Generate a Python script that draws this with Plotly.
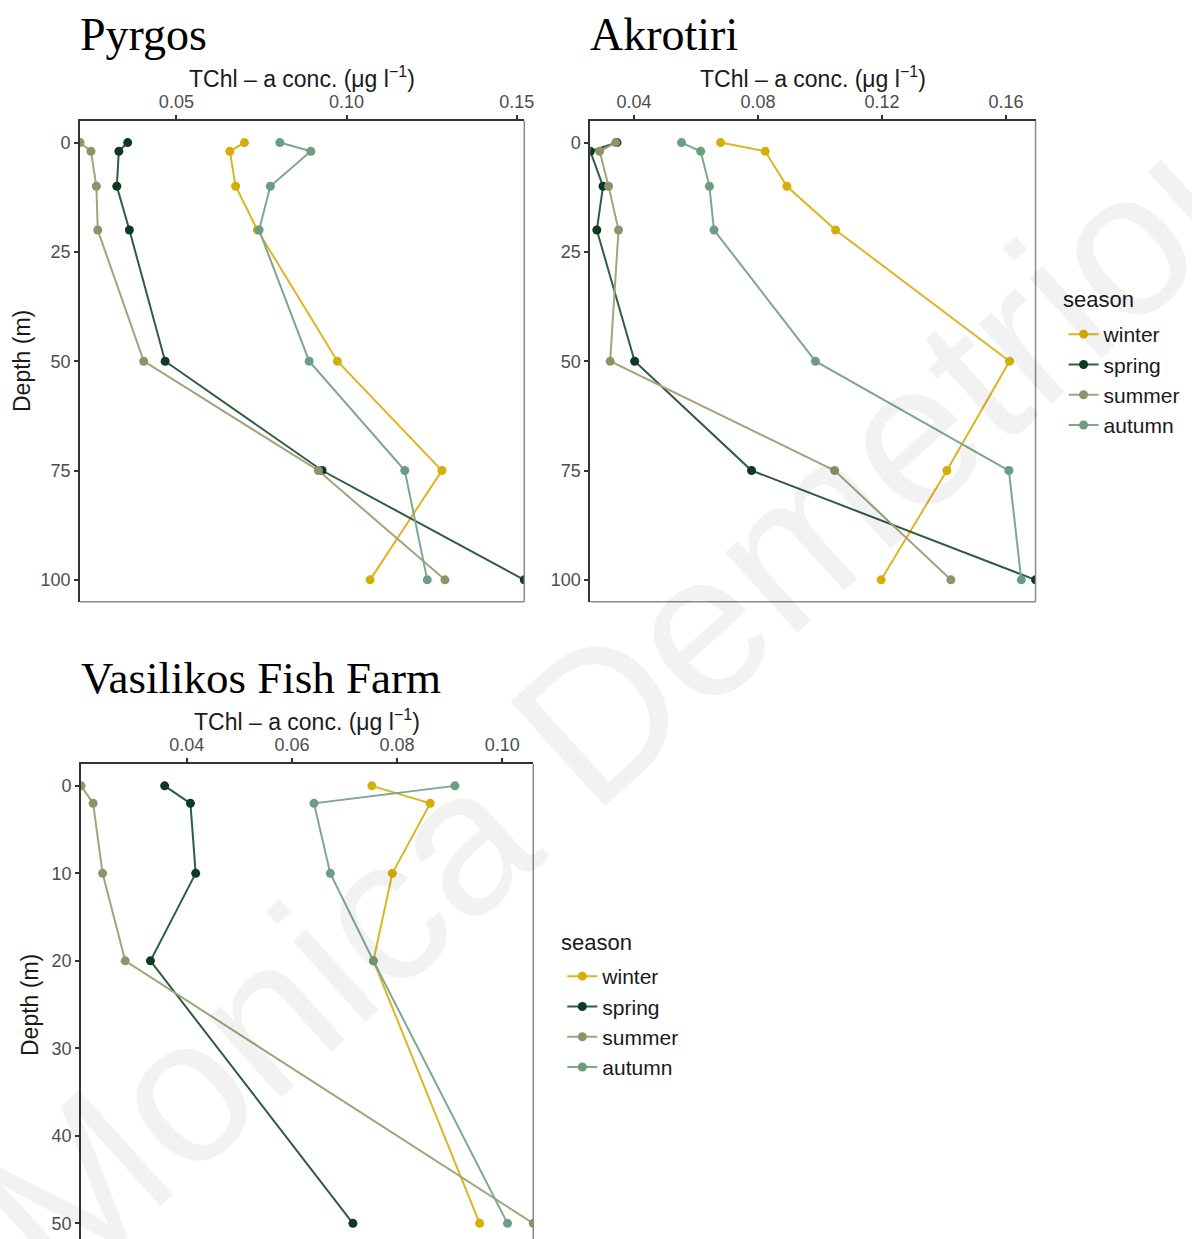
import plotly.graph_objects as go

# ---- data: total chlorophyll-a (ug/l) by depth and season ----
seasons = ["winter", "spring", "summer", "autumn"]
depth_long = [0, 2, 10, 20, 50, 75, 100]
depth_short = [0, 2, 10, 20, 50]

pyrgos_winter = [0.0700, 0.0657, 0.0674, 0.0738, 0.0973, 0.1280, 0.1069]
pyrgos_spring = [0.0357, 0.0331, 0.0325, 0.0362, 0.0467, 0.0928, 0.1522]
pyrgos_summer = [0.0217, 0.0249, 0.0265, 0.0269, 0.0404, 0.0917, 0.1289]
pyrgos_autumn = [0.0804, 0.0895, 0.0776, 0.0743, 0.0890, 0.1171, 0.1237]

akrotiri_winter = [0.0679, 0.0823, 0.0893, 0.1050, 0.1611, 0.1409, 0.1197]
akrotiri_spring = [0.0345, 0.0259, 0.0300, 0.0280, 0.0402, 0.0779, 0.1695]
akrotiri_summer = [0.0341, 0.0289, 0.0318, 0.0350, 0.0323, 0.1047, 0.1422]
akrotiri_autumn = [0.0553, 0.0615, 0.0643, 0.0658, 0.0985, 0.1609, 0.1649]

vasilikos_winter = [0.0752, 0.0863, 0.0791, 0.0755, 0.0957]
vasilikos_spring = [0.0358, 0.0407, 0.0417, 0.0331, 0.0716]
vasilikos_summer = [0.0199, 0.0222, 0.0240, 0.0283, 0.1059]
vasilikos_autumn = [0.0910, 0.0642, 0.0673, 0.0755, 0.1010]

pyrgos_xticks = [0.05, 0.10, 0.15]
akrotiri_xticks = [0.04, 0.08, 0.12, 0.16]
vasilikos_xticks = [0.04, 0.06, 0.08, 0.10]
depth_ticks_long = [0, 25, 50, 75, 100]
depth_ticks_short = [0, 10, 20, 30, 40, 50]

# ---- styling ----
W, H = 1192, 1239
KX = 1.009  # horizontal placement factor
marker_colors = {"winter": "#D6AE0A", "spring": "#0E3A22",
                 "summer": "#8F936A", "autumn": "#6B9D81"}
line_colors = {"winter": "#DDB523", "spring": "#2E5C44",
               "summer": "#A2A47A", "autumn": "#7DA890"}
SANS = "Liberation Sans, Arial, Helvetica, sans-serif"
SERIF = "Liberation Serif, Times New Roman, serif"


def px_x(v):
    return min(1.0, v * KX / W)


def px_y(v):
    return 1 - v / H


panels = [
    dict(name="Pyrgos", x="x", y="y", depth=depth_long,
         series=[pyrgos_winter, pyrgos_spring, pyrgos_summer, pyrgos_autumn],
         xticks=pyrgos_xticks, yticks=depth_ticks_long,
         xdom=(80, 524), ydom=(120.7, 601.7), yrange=[105, -5],
         legend="legend", showlegend=True, title_size=46),
    dict(name="Akrotiri", x="x2", y="y2", depth=depth_long,
         series=[akrotiri_winter, akrotiri_spring, akrotiri_summer, akrotiri_autumn],
         xticks=akrotiri_xticks, yticks=depth_ticks_long,
         xdom=(590, 1035), ydom=(120.7, 601.7), yrange=[105, -5],
         legend="legend", showlegend=False, title_size=46),
    dict(name="Vasilikos Fish Farm", x="x3", y="y3", depth=depth_short,
         series=[vasilikos_winter, vasilikos_spring, vasilikos_summer, vasilikos_autumn],
         xticks=vasilikos_xticks, yticks=depth_ticks_short,
         xdom=(81, 533), ydom=(764, 1239), yrange=[51.79, -2.5],
         legend="legend2", showlegend=True, title_size=45),
]

fig = go.Figure()
layout_axes = {}
shapes = []
annotations = []

for i, p in enumerate(panels):
    for season, vals in zip(seasons, p["series"]):
        fig.add_trace(go.Scatter(
            x=vals, y=p["depth"], mode="lines+markers", name=season,
            xaxis=p["x"], yaxis=p["y"], legend=p["legend"],
            showlegend=p["showlegend"],
            line=dict(color=line_colors[season], width=2),
            marker=dict(color=marker_colors[season], size=9),
        ))
    allvals = [v for s in p["series"] for v in s]
    xr = [min(allvals), max(allvals)]
    suffix = "" if i == 0 else str(i + 1)
    layout_axes["xaxis" + suffix] = dict(
        domain=[px_x(p["xdom"][0]), px_x(p["xdom"][1])],
        anchor=p["y"], side="top", range=xr,
        tickvals=p["xticks"], tickformat=".2f",
        ticks="outside", ticklen=4, tickwidth=1.5, tickcolor="#333333",
        showline=True, linecolor="#333333", linewidth=2,
        showgrid=False, zeroline=False,
        tickfont=dict(family=SANS, size=18, color="#4d4d4d"),
    )
    layout_axes["yaxis" + suffix] = dict(
        domain=[max(0, px_y(p["ydom"][1])), px_y(p["ydom"][0])],
        anchor=p["x"], range=p["yrange"],
        tickvals=p["yticks"],
        ticks="outside", ticklen=4, tickwidth=1.5, tickcolor="#333333",
        showline=True, linecolor="#333333", linewidth=2,
        showgrid=False, zeroline=False,
        tickfont=dict(family=SANS, size=18, color="#4d4d4d"),
    )
    # right and bottom panel border in light grey
    xref_dom = p["x"] + " domain"
    yref_dom = p["y"] + " domain"
    shapes.append(dict(type="line", xref=xref_dom, yref=yref_dom,
                       x0=1, x1=1, y0=0, y1=1,
                       line=dict(color="#8a8a8a", width=1.5)))
    if p["ydom"][1] < H:
        shapes.append(dict(type="line", xref=xref_dom, yref=yref_dom,
                           x0=0, x1=1, y0=0, y1=0,
                           line=dict(color="#8a8a8a", width=1.5)))

    # site title
    annotations.append(dict(
        text=p["name"], xref="paper", yref="paper",
        x=px_x(p["xdom"][0] - 2), y=px_y(p["ydom"][0] - 86),
        xanchor="left", yanchor="middle", showarrow=False,
        font=dict(family=SERIF, size=p["title_size"], color="#000000")))
    # concentration axis title
    annotations.append(dict(
        text="TChl – a conc. (μg l<sup>−1</sup>)", xref="paper", yref="paper",
        x=px_x((p["xdom"][0] + p["xdom"][1]) / 2), y=px_y(p["ydom"][0] - 44),
        xanchor="center", yanchor="middle", showarrow=False,
        font=dict(family=SANS, size=23, color="#1a1a1a")))

# depth axis titles (Pyrgos and Vasilikos only)
annotations.append(dict(
    text="Depth (m)", xref="paper", yref="paper", x=px_x(22), y=px_y(361),
    xanchor="center", yanchor="middle", textangle=-90, showarrow=False,
    font=dict(family=SANS, size=23, color="#1a1a1a")))
annotations.append(dict(
    text="Depth (m)", xref="paper", yref="paper", x=px_x(30), y=px_y(1005),
    xanchor="center", yanchor="middle", textangle=-90, showarrow=False,
    font=dict(family=SANS, size=23, color="#1a1a1a")))

# legend headings
for lx, ly in [(1060, 300), (559, 943)]:
    annotations.append(dict(
        text="season", xref="paper", yref="paper", x=px_x(lx), y=px_y(ly),
        xanchor="left", yanchor="middle", showarrow=False,
        font=dict(family=SANS, size=22, color="#1a1a1a")))

# author watermark
annotations.append(dict(
    text="Monica Demetriou", xref="paper", yref="paper",
    x=px_x(628), y=px_y(688), xanchor="center", yanchor="middle",
    textangle=-42, showarrow=False,
    font=dict(family=SANS, size=205, color="rgba(0,0,0,0.05)")))

legend_style = dict(
    xanchor="left", yanchor="top", bgcolor="rgba(0,0,0,0)",
    font=dict(family=SANS, size=21, color="#1a1a1a"),
    itemwidth=30, tracegroupgap=0,
)

fig.update_layout(
    width=W, height=H,
    margin=dict(l=0, r=0, t=0, b=0),
    paper_bgcolor="white", plot_bgcolor="white",
    shapes=shapes, annotations=annotations,
    legend=dict(x=px_x(1063), y=px_y(314), **legend_style),
    legend2=dict(x=px_x(562), y=px_y(956), **legend_style),
    **layout_axes,
)

fig.write_html("out.html")
